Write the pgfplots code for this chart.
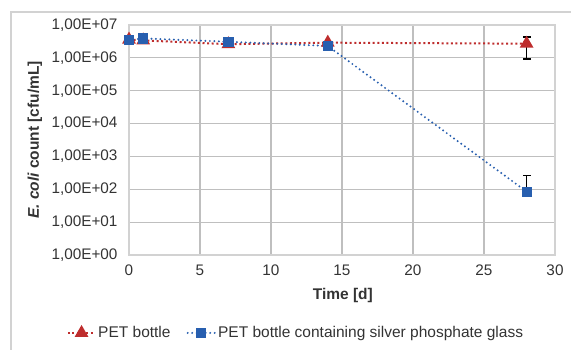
\documentclass[border=0pt]{standalone}
\usepackage{pgfplots}
\pgfplotsset{compat=1.18}
\usepackage{fontspec}
\setmainfont{Liberation Sans}
\definecolor{cred}{RGB}{190,45,45}
\definecolor{cblue}{RGB}{40,95,175}
\definecolor{grid}{RGB}{210,210,210}
\begin{document}
\begin{tikzpicture}[x=1pt,y=1pt]
\useasboundingbox (0,0) rectangle (571,349);
\draw[grid, line width=1.2pt] (11,-20) |- (600,337);
\begin{axis}[
  at={(129pt,94pt)}, anchor=south west,
  scale only axis, width=426pt, height=230pt,
  xmin=0, xmax=30, ymin=1, ymax=1e7,
  ymode=log, log basis y=10,
  xtick={0,5,...,30},
  ytick={1,10,100,1000,10000,100000,1000000,10000000},
  yticklabels={{1,00E+00},{1,00E+01},{1,00E+02},{1,00E+03},{1,00E+04},{1,00E+05},{1,00E+06},{1,00E+07}},
  /pgf/number format/assume math mode=true,
  tick label style={font=\fontsize{15.3}{17}\selectfont, text=black!80},
  xticklabel style={yshift=-6pt},
  yticklabel style={xshift=-8pt},
  major tick length=0pt,
  minor tick num=0,
  grid=major,
  major grid style={grid, line width=1.2pt},
  axis line style={grid, line width=1.2pt},
  xlabel={\textbf{Time [d]}},
  ylabel={\textbf{\textit{E. coli} count [cfu/mL]}},
  label style={font=\fontsize{15.5}{17}\selectfont, text=black!80},
  xlabel style={at={(axis description cs:0.502,-0.178)}, anchor=center},
  ylabel style={at={(axis description cs:-0.221,0.5)}, anchor=center, rotate=0},
  legend columns=2,
  legend style={draw=none, fill=none, at={(axis description cs:0.392,-0.339)}, anchor=center,
    font=\fontsize{15.5}{17}\selectfont, text=black!80,
    /tikz/every even column/.append style={column sep=14pt}},
  legend image code/.code={
    \draw[mark repeat=2,mark phase=2,#1] plot coordinates {(0cm,0cm)(0.48cm,0cm)(0.96cm,0cm)};
  },
  clip=false,
]
% error bars
\addplot[black, line width=1.3pt, mark=-, mark size=4pt, mark options={solid, line width=1.3pt}, forget plot]
  coordinates {(28,9.3e5) (28,4.3e6)};
\addplot[black, line width=1.3pt, forget plot] coordinates {(28,85) (28,260)};
\addplot[black, only marks, mark=-, mark size=4pt, mark options={line width=1.3pt}, forget plot]
  coordinates {(28,260)};
\addplot[cred, line width=2pt, dash pattern=on 2pt off 2.6pt, mark=triangle*, mark size=6pt, mark options={solid}]
  coordinates {(0,3.6e6) (1,3.4e6) (7,2.6e6) (14,2.9e6) (28,2.7e6)};
\addlegendentry{PET bottle}
\addplot[cblue, line width=2.2pt, line cap=round, dash pattern=on 0pt off 4.5pt, mark=square*, mark size=4pt, mark options={solid}]
  coordinates {(0,3.5e6) (1,3.9e6) (7,3.1e6) (14,2.3e6) (28,85)};
\addlegendentry{PET bottle containing silver phosphate glass}
\end{axis}
\end{tikzpicture}
\end{document}
